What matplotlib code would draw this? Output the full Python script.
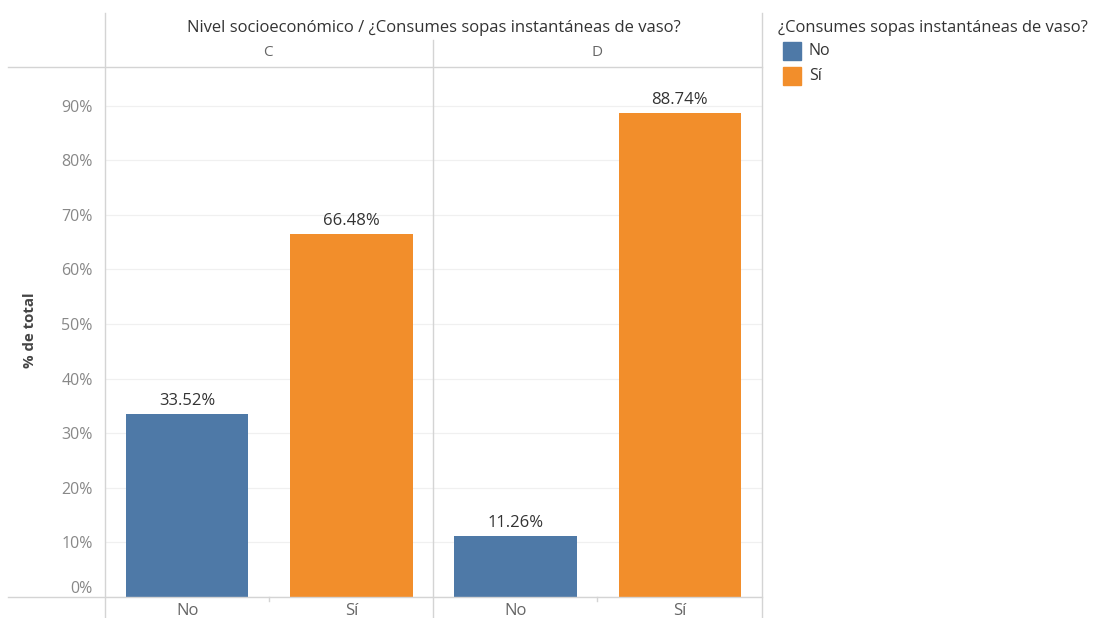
import matplotlib
matplotlib.use("Agg")
import matplotlib.pyplot as plt
from matplotlib.lines import Line2D
from matplotlib.patches import Rectangle
from matplotlib.transforms import ScaledTranslation

plt.rcParams['font.family'] = ['Open Sans', 'DejaVu Sans']

groups = ["C", "D"]
categories = ["No", "Sí"]
values = {"C": [33.52, 66.48], "D": [11.26, 88.74]}
colors = {"No": "#4e79a7", "Sí": "#f28e2b"}
yticks = [0, 10, 20, 30, 40, 50, 60, 70, 80, 90]
header_title = "Nivel socioeconómico / ¿Consumes sopas instantáneas de vaso?"
legend_title = "¿Consumes sopas instantáneas de vaso?"
ylabel = "% de total"

W, H = 1093, 618
fig = plt.figure(figsize=(W / 100, H / 100), dpi=100)

def fx(px):
    return px / W

def fy(py):
    return 1 - py / H

ax = fig.add_axes([fx(105), fy(597), fx(762) - fx(105), fy(68) - fy(597)])
ax.set_xlim(-0.5, 3.5)
ax.set_ylim(0, 96.9)

pos = 0
xs, labels = [], []
for g in groups:
    for c, v in zip(categories, values[g]):
        ax.bar(pos, v, width=0.745, color=colors[c], zorder=3)
        ax.text(pos, v + 0.9, f"{v:.2f}%", ha="center", va="bottom",
                fontsize=12, color="#333333", zorder=4)
        xs.append(pos)
        labels.append(c)
        pos += 1

for t in yticks:
    ax.axhline(t, color="#f0f0f0", lw=0.9, zorder=1)

ax.set_yticks(yticks)
ax.set_yticklabels([f"{t}%" for t in yticks], fontsize=11.5, color="#888888")
ax.tick_params(axis="y", length=0, pad=9)
# Tableau lifts the 0% label above the baseline
lbl0 = ax.get_yticklabels()[0]
lbl0.set_transform(lbl0.get_transform() + ScaledTranslation(0, 10 / 100, fig.dpi_scale_trans))

ax.set_xticks(xs)
ax.set_xticklabels(labels, fontsize=12, color="#666666")
ax.tick_params(axis="x", length=0, pad=4)
for s in ax.spines.values():
    s.set_visible(False)

fig.text(fx(30), fy(330), ylabel, rotation=90, ha="center", va="center",
         fontsize=10.8, fontweight="bold", color="#444444")

lc = "#d4d4d4"
def hline(x0, x1, y):
    fig.add_artist(Line2D([fx(x0), fx(x1)], [fy(y), fy(y)], color=lc, lw=1.0))

def vline(x, y0, y1):
    fig.add_artist(Line2D([fx(x), fx(x)], [fy(y0), fy(y1)], color=lc, lw=1.0))

hline(8, 762, 67)
hline(8, 762, 597)
vline(105, 13, 618)
vline(433, 40, 618)
vline(762, 13, 618)
for xt in (269, 597):
    vline(xt, 597, 601)

fig.text(fx(434), fy(28), header_title, ha="center", va="center",
         fontsize=12, color="#333333")
fig.text(fx(268), fy(53), groups[0], ha="center", va="center", fontsize=11, color="#666666")
fig.text(fx(597), fy(53), groups[1], ha="center", va="center", fontsize=11, color="#666666")

fig.text(fx(778), fy(28), legend_title, ha="left", va="center",
         fontsize=11.9, color="#333333")
for i, c in enumerate(categories):
    y0 = 42 + i * 25
    fig.add_artist(Rectangle((fx(783), fy(y0 + 18)), fx(18), fy(y0) - fy(y0 + 18),
                             color=colors[c], transform=fig.transFigure))
    fig.text(fx(809), fy(y0 + 9), c, ha="left", va="center", fontsize=11.5, color="#333333")

fig.savefig("out.png", dpi=100)
